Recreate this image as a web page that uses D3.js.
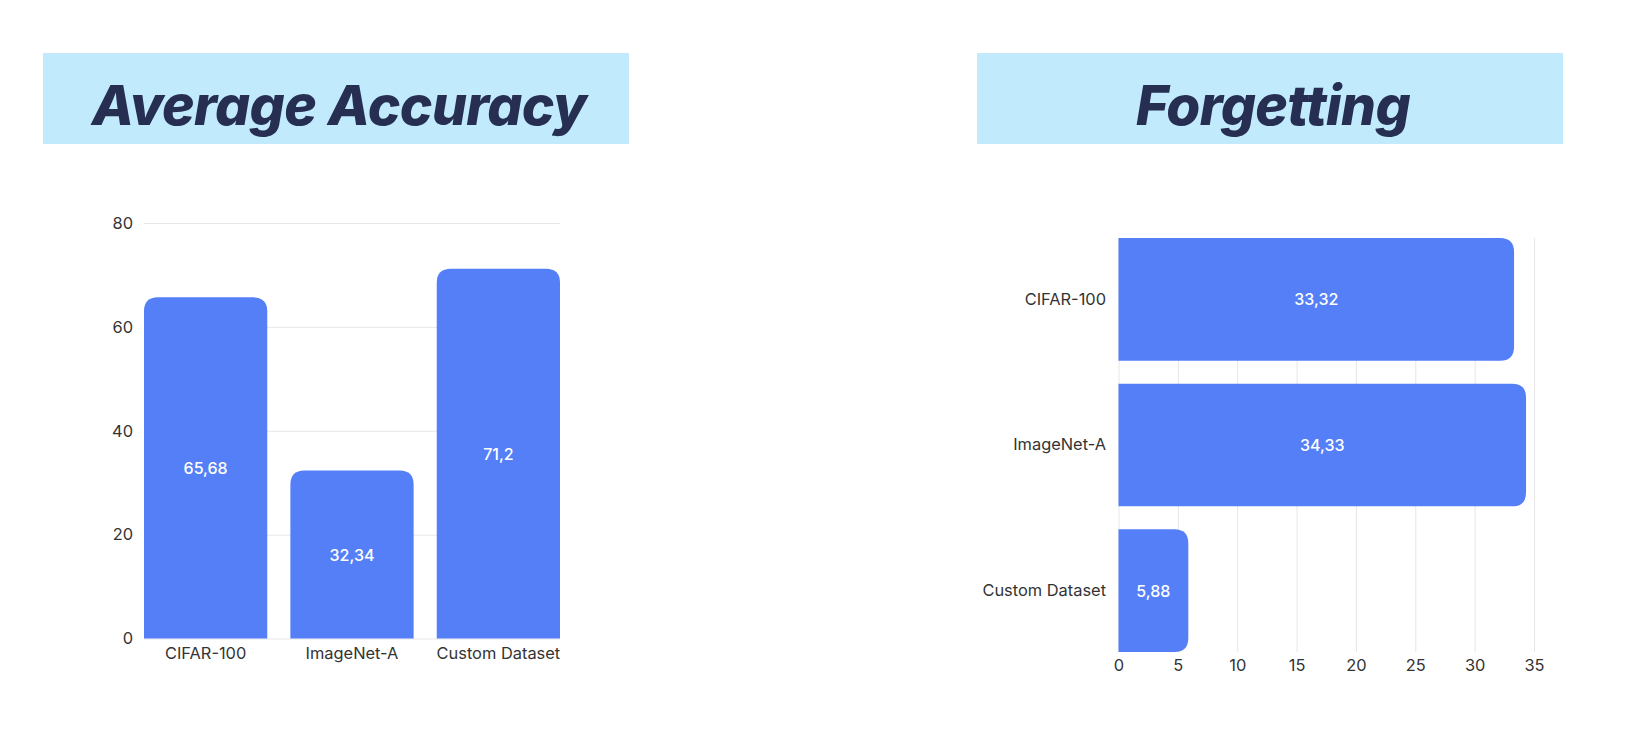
<!DOCTYPE html>
<html>
<head>
<meta charset="utf-8">
<script src="https://cdn.jsdelivr.net/npm/d3@7"></script>
<style>
	body { margin: 0; background: #fff; }
	.grid line { stroke: #e6e6e6; stroke-width: 1px; }
	.tick text { font-family: Inter, sans-serif; font-size: 16.4px; fill: #333; }
</style>
</head>
<body>
<svg id="main_svg"></svg>
<script>
const WIDTH = 1636;
const HEIGHT = 739;
const BAR_COLOR = '#557ff7';

const acc_categories = ['CIFAR-100', 'ImageNet-A', 'Custom Dataset'];
const acc_values = [65.68, 32.34, 71.2];
const acc_labels = ['65,68', '32,34', '71,2'];
const acc_ticks = [0, 20, 40, 60, 80];

const forg_categories = ['CIFAR-100', 'ImageNet-A', 'Custom Dataset'];
const forg_values = [33.32, 34.33, 5.88];
const forg_labels = ['33,32', '34,33', '5,88'];
const forg_ticks = [0, 5, 10, 15, 20, 25, 30, 35];

// rectangle with the two corners at the "value" end rounded
const top_rounded = (x, y, w, h, r) => {
	r = Math.min(r, w / 2, h);
	return `M${x},${y + h}V${y + r}Q${x},${y} ${x + r},${y}H${x + w - r}Q${x + w},${y} ${x + w},${y + r}V${y + h}Z`;
};
const right_rounded = (x, y, w, h, r) => {
	r = Math.min(r, h / 2, w);
	return `M${x},${y}H${x + w - r}Q${x + w},${y} ${x + w},${y + r}V${y + h - r}Q${x + w},${y + h} ${x + w - r},${y + h}H${x}Z`;
};

const plot_title = (svg, x, y, w, h, title) => {
	svg.append('rect')
		.attr('x', x).attr('y', y)
		.attr('width', w).attr('height', h)
		.attr('fill', '#c1eafd');
	svg.append('text')
		.attr('x', x + w / 2 + 3)
		.attr('y', y + 72)
		.attr('text-anchor', 'middle')
		.attr('font-family', 'Inter, sans-serif')
		.attr('font-weight', 800)
		.attr('font-style', 'italic')
		.attr('font-size', '55px')
		.attr('letter-spacing', '-0.6px')
		.attr('fill', '#262e52')
		.text(title);
};

const plot_accuracy = (svg) => {
	const x_scale = d3.scaleBand()
		.domain(acc_categories)
		.range([144, 560])
		.paddingInner(0.158)
		.paddingOuter(0);

	const y_scale = d3.scaleLinear()
		.domain([0, 80])
		.range([638.5, 223]);

	svg.append('g')
		.attr('class', 'grid')
		.attr('transform', 'translate(144,0)')
		.call(d3.axisLeft(y_scale).tickValues(acc_ticks).tickSize(-416).tickFormat(''))
		.call(g => g.select('.domain').remove());

	svg.append('g')
		.attr('transform', 'translate(133,0)')
		.call(d3.axisLeft(y_scale).tickValues(acc_ticks).tickSize(0).tickPadding(0))
		.call(g => g.select('.domain').remove());

	svg.selectAll('.acc_bar')
		.data(acc_values)
		.enter()
		.append('path')
		.attr('class', 'acc_bar')
		.attr('fill', BAR_COLOR)
		.attr('d', (d, i) => top_rounded(x_scale(acc_categories[i]), y_scale(d),
			x_scale.bandwidth(), y_scale(0) - y_scale(d), 14));

	svg.selectAll('.acc_label')
		.data(acc_values)
		.enter()
		.append('text')
		.attr('class', 'acc_label')
		.attr('x', (d, i) => x_scale(acc_categories[i]) + x_scale.bandwidth() / 2)
		.attr('y', d => (y_scale(d) + y_scale(0)) / 2)
		.attr('text-anchor', 'middle')
		.attr('dominant-baseline', 'central')
		.attr('font-family', 'Inter, sans-serif')
		.attr('font-weight', 500)
		.attr('font-size', '16px')
		.attr('fill', '#fff')
		.text((d, i) => acc_labels[i]);

	svg.append('g')
		.attr('transform', `translate(0,${y_scale(0) + 6})`)
		.call(d3.axisBottom(x_scale).tickSize(0).tickPadding(3))
		.call(g => g.select('.domain').remove());
};

const plot_forgetting = (svg) => {
	const y_scale = d3.scaleBand()
		.domain(forg_categories)
		.range([238, 652])
		.paddingInner(0.158)
		.paddingOuter(0);

	const x_scale = d3.scaleLinear()
		.domain([0, 35])
		.range([1118.5, 1534]);

	svg.append('g')
		.attr('class', 'grid')
		.attr('transform', 'translate(0,652)')
		.call(d3.axisBottom(x_scale).tickValues(forg_ticks).tickSize(-414).tickFormat(''))
		.call(g => g.select('.domain').remove());

	svg.append('g')
		.attr('transform', 'translate(0,659)')
		.call(d3.axisBottom(x_scale).tickValues(forg_ticks).tickSize(0).tickPadding(0))
		.call(g => g.select('.domain').remove());

	svg.selectAll('.forg_bar')
		.data(forg_values)
		.enter()
		.append('path')
		.attr('class', 'forg_bar')
		.attr('fill', BAR_COLOR)
		.attr('d', (d, i) => right_rounded(x_scale(0), y_scale(forg_categories[i]),
			x_scale(d) - x_scale(0), y_scale.bandwidth(), 14));

	svg.selectAll('.forg_label')
		.data(forg_values)
		.enter()
		.append('text')
		.attr('class', 'forg_label')
		.attr('x', d => (x_scale(0) + x_scale(d)) / 2)
		.attr('y', (d, i) => y_scale(forg_categories[i]) + y_scale.bandwidth() / 2)
		.attr('text-anchor', 'middle')
		.attr('dominant-baseline', 'central')
		.attr('font-family', 'Inter, sans-serif')
		.attr('font-weight', 500)
		.attr('font-size', '16px')
		.attr('fill', '#fff')
		.text((d, i) => forg_labels[i]);

	svg.append('g')
		.attr('transform', 'translate(1106,0)')
		.call(d3.axisLeft(y_scale).tickSize(0).tickPadding(0))
		.call(g => g.select('.domain').remove());
};

window.onload = () => {
	const svg = d3.select('#main_svg').attr('width', WIDTH).attr('height', HEIGHT);
	plot_title(svg, 43, 53, 586, 91, 'Average Accuracy');
	plot_title(svg, 977, 53, 586, 91, 'Forgetting');
	plot_accuracy(svg);
	plot_forgetting(svg);
};
</script>
</body>
</html>
